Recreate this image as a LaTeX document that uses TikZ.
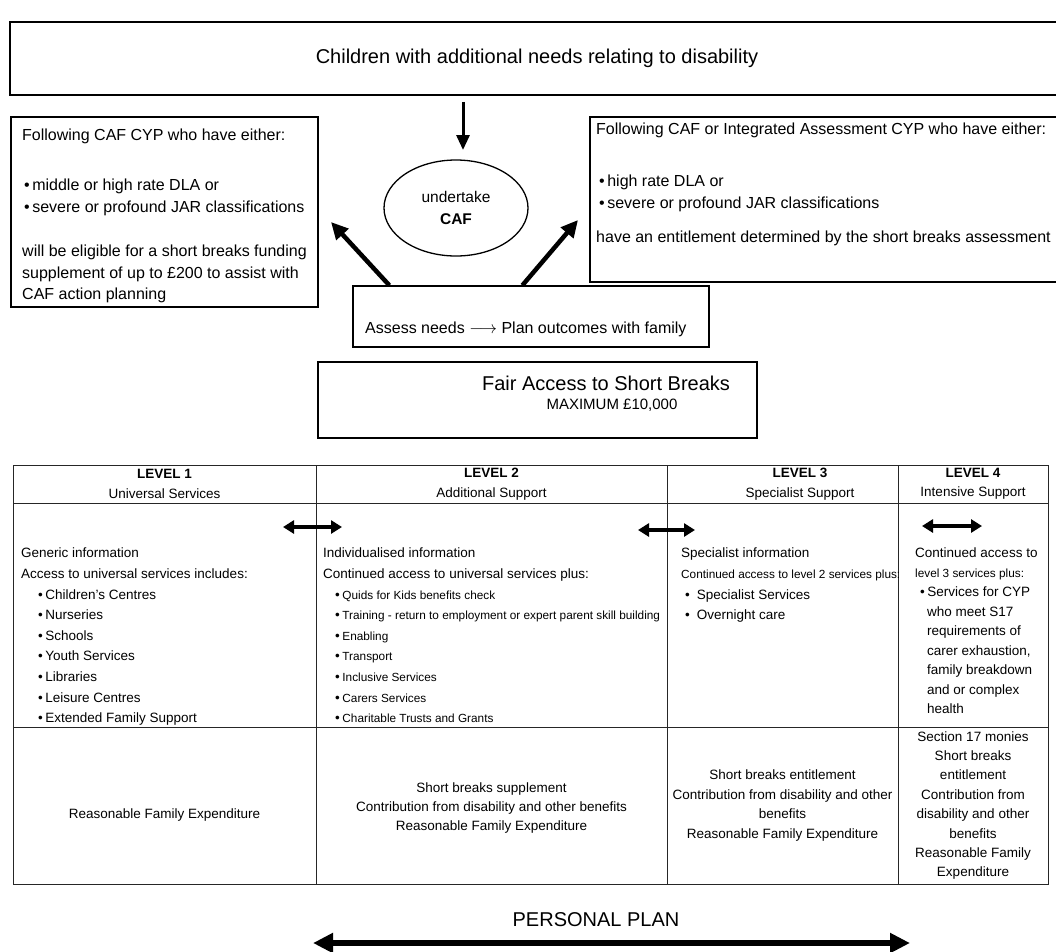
\documentclass[tikz,border=0pt]{standalone}
\usepackage{fontspec}
\setmainfont{Liberation Sans}
\usetikzlibrary{arrows.meta,shapes.geometric}

\newcommand{\bul}[1][2.5pt]{\textbullet\hspace{#1}}
\newcommand{\sm}{\fontsize{11.8}{20.6}\selectfont}

\begin{document}
\begin{tikzpicture}[x=1pt,y=-1pt,
    box/.style={shape=rectangle,draw=black,line width=1.3pt,inner sep=0pt},
    cell/.style={shape=rectangle,draw=black!85,line width=0.9pt,inner sep=0pt,align=center,font=\fontsize{13.5}{19.4}\selectfont},
    txt/.style={inner sep=0pt,anchor=north west,align=left},
    tab/.style={font=\fontsize{13.5}{20.6}\selectfont},
    fat/.style={-{Triangle[length=15pt,width=13pt]},line width=3pt},
    diag/.style={-{Triangle[length=17pt,width=16pt]},line width=4.5pt},
    dbl/.style={{Triangle[length=11pt,width=13pt]}-{Triangle[length=11pt,width=13pt]},line width=4pt},
    plan/.style={{Triangle[length=20pt,width=19pt]}-{Triangle[length=20pt,width=19pt]},line width=6.5pt}]
    \useasboundingbox (0,0) rectangle (1056,951);

    % top part
    \node[box,line width=1.5pt,minimum width=1054pt,minimum height=73pt,font=\fontsize{20}{24}\selectfont] (needs) at (537,58.5) {Children with additional needs relating to disability};
    \node[draw=black,line width=1.3pt,ellipse,minimum width=144pt,minimum height=96pt,align=center,font=\fontsize{15.5}{22}\selectfont] (caf) at (456,208) {undertake\\\textbf{CAF}};
    \node[box,minimum width=307pt,minimum height=190pt] (supp) at (164.5,212) {};
    \node[box,minimum width=474pt,minimum height=165pt] (entit) at (827,199.5) {};
    \node[box,minimum width=356pt,minimum height=61pt] (assess) at (531,316.5) {};
    \node[box,minimum width=439pt,minimum height=76pt] (fair) at (537.5,400) {};

    \node[txt,font=\fontsize{16}{21.5}\selectfont] (supptxt) at (22,129) {Following CAF CYP who have either:\\[28.5pt]
        \hspace{2pt}\bul middle or high rate DLA or\\
        \hspace{2pt}\bul severe or profound JAR classifications\\[23pt]
        will be eligible for a short breaks funding\\
        supplement of up to £200 to assist with\\
        CAF action planning};
    \node[txt,font=\fontsize{16}{22}\selectfont] (entittxt) at (596,123) {Following CAF or Integrated Assessment CYP who have either:\\[30pt]
        \hspace{3pt}\bul high rate DLA or\\
        \hspace{3pt}\bul severe or profound JAR classifications\\[12pt]
        have an entitlement determined by the short breaks assessment};
    \node[txt,font=\fontsize{16}{20}\selectfont] (assesstxt) at (365,322) {Assess needs $\longrightarrow$ Plan outcomes with family};
    \node[font=\fontsize{20}{24}\selectfont,inner sep=0pt] (fairtitle) at (606,383) {Fair Access to Short Breaks};
    \node[font=\fontsize{15}{18}\selectfont,inner sep=0pt] (fairmax) at (612,405) {MAXIMUM £10,000};

    \coordinate (dtip) at (463,150);
    \coordinate (ltip) at (331,222);
    \coordinate (rtip) at (578,220);
    \path[fat] ([yshift=-6pt]needs.south -| dtip) edge (dtip);
    \path[diag] ([xshift=37pt]assess.north west) edge (ltip);
    \path[diag] ([xshift=170pt]assess.north west) edge (rtip);

    % levels table
    \node[cell,minimum width=303pt,minimum height=38pt] (h1) at (164.5,484) {\textbf{LEVEL 1}\\Universal Services};
    \node[cell,minimum width=351pt,minimum height=38pt] (h2) at (491.5,484) {\textbf{LEVEL 2}\\Additional Support};
    \node[cell,minimum width=231pt,minimum height=38pt] (h3) at (782.5,484) {};
    \node[cell,draw=none] (h3txt) at (800,484) {\textbf{LEVEL 3}\\Specialist Support};
    \node[cell,minimum width=150pt,minimum height=38pt] (h4) at (973,484) {\textbf{LEVEL 4}\\Intensive Support};

    \node[cell,minimum width=303pt,minimum height=224pt] (b1) at (164.5,615) {};
    \node[cell,minimum width=351pt,minimum height=224pt] (b2) at (491.5,615) {};
    \node[cell,minimum width=231pt,minimum height=224pt] (b3) at (782.5,615) {};
    \node[cell,minimum width=150pt,minimum height=224pt] (b4) at (973,615) {};

    \node[cell,minimum width=303pt,minimum height=157pt] (f1) at (164.5,805.5) {};
    \node[cell,draw=none] (f1txt) at (164.5,815) {Reasonable Family Expenditure};
    \node[cell,minimum width=351pt,minimum height=157pt] (f2) at (491.5,805.5) {};
    \node[cell,draw=none] (f2txt) at (491.5,808) {Short breaks supplement\\Contribution from disability and other benefits\\Reasonable Family Expenditure};
    \node[cell,minimum width=231pt,minimum height=157pt] (f3) at (782.5,805.5) {Short breaks entitlement\\Contribution from disability and other\\benefits\\Reasonable Family Expenditure};
    \node[cell,minimum width=150pt,minimum height=157pt] (f4) at (973,805.5) {Section 17 monies\\Short breaks\\entitlement\\Contribution from\\disability and other\\benefits\\Reasonable Family\\Expenditure};

    \node[txt,tab] (l1txt) at (21,548) {Generic information\\
        Access to universal services includes:\\
        \hspace{17pt}\bul Children's Centres\\
        \hspace{17pt}\bul Nurseries\\
        \hspace{17pt}\bul Schools\\
        \hspace{17pt}\bul Youth Services\\
        \hspace{17pt}\bul Libraries\\
        \hspace{17pt}\bul Leisure Centres\\
        \hspace{17pt}\bul Extended Family Support};
    \node[txt,tab] (l2txt) at (323,548) {Individualised information\\
        Continued access to universal services plus:\\
        \hspace{12pt}\bul{\sm Quids for Kids benefits check}\\
        \hspace{12pt}\bul{\sm Training - return to employment or expert parent skill building}\\
        \hspace{12pt}\bul{\sm Enabling}\\
        \hspace{12pt}\bul{\sm Transport}\\
        \hspace{12pt}\bul{\sm Inclusive Services}\\
        \hspace{12pt}\bul{\sm Carers Services}\\
        \hspace{12pt}\bul{\sm Charitable Trusts and Grants}};
    \node[txt,tab] (l3txt) at (681,548) {Specialist information\\
        {\sm Continued access to level 2 services plus:}\\
        \hspace{4pt}\bul[7pt]Specialist Services\\
        \hspace{4pt}\bul[7pt]Overnight care};
    \node[txt,font=\fontsize{13.5}{19.5}\selectfont] (l4txt) at (915,548) {Continued access to\\
        {\sm level 3 services plus:}\\
        \hspace{5pt}\bul Services for CYP\\
        \hspace{12pt}who meet S17\\
        \hspace{12pt}requirements of\\
        \hspace{12pt}carer exhaustion,\\
        \hspace{12pt}family breakdown\\
        \hspace{12pt}and or complex\\
        \hspace{12pt}health};

    \coordinate (a1l) at (283,527);
    \coordinate (a1r) at (342,527);
    \coordinate (a2l) at (638,530);
    \coordinate (a2r) at (695,530);
    \coordinate (a3l) at (922,526);
    \coordinate (a3r) at (982,526);
    \path[dbl] (a1l) edge (a1r);
    \path[dbl] (a2l) edge (a2r);
    \path[dbl] (a3l) edge (a3r);

    % personal plan
    \node[font=\fontsize{20}{24}\selectfont,inner sep=0pt] (plan) at (596,920) {PERSONAL PLAN};
    \coordinate (pl) at (313,943);
    \coordinate (pr) at (910,943);
    \path[plan] (pl) edge (pr);
\end{tikzpicture}
\end{document}
